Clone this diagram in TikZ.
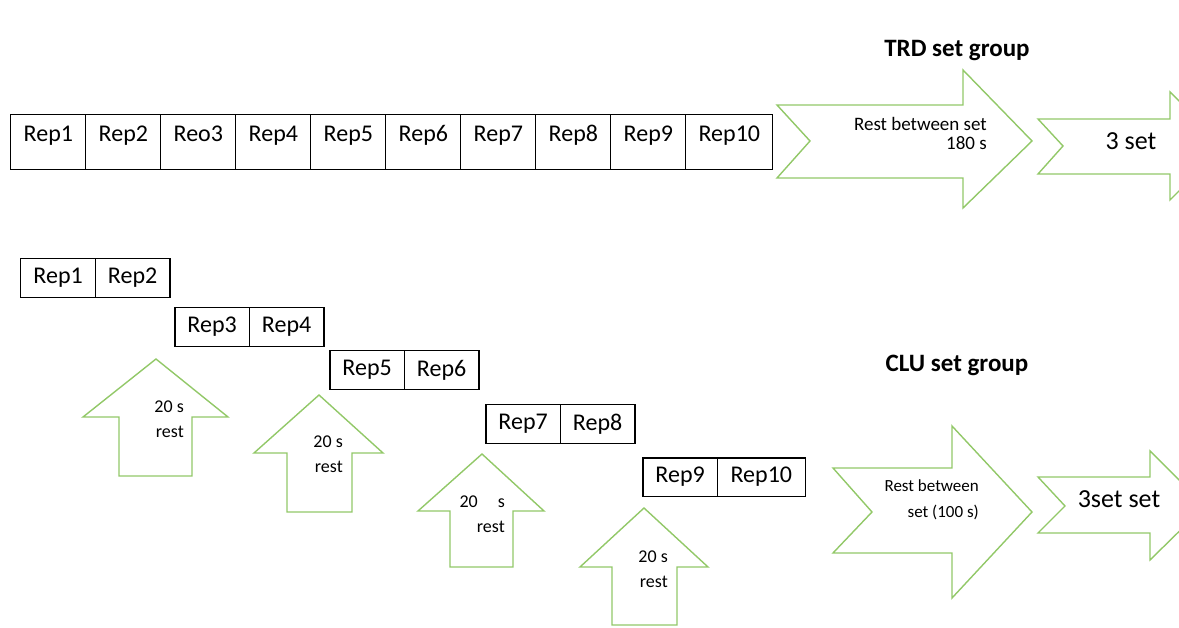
\documentclass[tikz,border=0pt]{standalone}
\usepackage{fontspec}
\setmainfont{Carlito}
\usepackage{tikz}
\usetikzlibrary{matrix}
\definecolor{restgreen}{RGB}{146,200,104}

\begin{document}
\begin{tikzpicture}[x=1pt,y=-1pt]
\tikzset{
  repmatrix/.style={
    matrix of nodes,
    inner sep=0pt,
    anchor=north west,
    column sep=-1.3pt,
    nodes={
      draw,
      line width=1.3pt,
      minimum width=75pt,
      minimum height=55pt,
      text height=16pt,
      text depth=17pt,
      anchor=center,
      font=\fontsize{24}{28}\selectfont
    }
  },
  pairmatrix/.style={
    matrix of nodes,
    inner sep=0pt,
    anchor=north west,
    column sep=-1.3pt,
    nodes={
      draw,
      line width=1.3pt,
      minimum width=74.5pt,
      minimum height=38.5pt,
      anchor=center,
      font=\fontsize{24}{28}\selectfont
    }
  }
};

\tikzstyle{restarrow}=[draw=restgreen,line width=1.4pt]
\tikzstyle{lab}=[inner sep=0pt,anchor=east,align=right]
\tikzstyle{grouplab}=[anchor=base,font=\bfseries\fontsize{25}{29}\selectfont]

\clip (0,0) rectangle (1179,628);

 \matrix (trd) [repmatrix] at (10,114)
 {
    Rep1 & Rep2 & Reo3 & Rep4 & Rep5 & Rep6 & Rep7 & Rep8 & Rep9 &
    |[minimum width=87pt]|Rep10 \\
 };

 \matrix (clu1) [pairmatrix] at (20,258) { Rep1 & Rep2 \\ };
 \matrix (clu2) [pairmatrix] at (174,307) { Rep3 & Rep4 \\ };
 \matrix (clu3) [pairmatrix] at (329,350) { Rep5 & Rep6 \\ };
 \matrix (clu4) [pairmatrix] at (485,404) { Rep7 & Rep8 \\ };
 \matrix (clu5) [pairmatrix] at (642,457) { Rep9 & |[minimum width=88pt]|Rep10 \\ };

  \node[grouplab] (trdlabel) at (957,57) {TRD set group};
  \node[grouplab] (clulabel) at (957,372) {CLU set group};

  \draw[restarrow] (777,105) -- (963,105) -- (963,70) -- (1032,141) -- (963,208)
    -- (963,178) -- (777,178) -- (810,141) -- cycle;
  \draw[restarrow] (1038,119) -- (1170,119) -- (1170,92) -- (1224,146) -- (1170,200)
    -- (1170,174) -- (1038,174) -- (1063,146) -- cycle;
  \draw[restarrow] (833,468) -- (952,468) -- (952,426) -- (1032,512) -- (952,598)
    -- (952,553) -- (833,553) -- (872,512) -- cycle;
  \draw[restarrow] (1038,477) -- (1150,477) -- (1150,451) -- (1205,506) -- (1150,560)
    -- (1150,533) -- (1038,533) -- (1065,506) -- cycle;

  \draw[restarrow] (156,359) -- (228,417) -- (192,417) -- (192,476) -- (119,476)
    -- (119,417) -- (83,417) -- cycle;
  \draw[restarrow] (319,395) -- (383,453) -- (352,453) -- (352,512) -- (287,512)
    -- (287,453) -- (254,453) -- cycle;
  \draw[restarrow] (482,454) -- (544,511) -- (513,511) -- (513,567) -- (450,567)
    -- (450,511) -- (418,511) -- cycle;
  \draw[restarrow] (644,508) -- (708,567) -- (677,567) -- (677,625) -- (612,625)
    -- (612,567) -- (580,567) -- cycle;

  \node[lab,font=\fontsize{19}{19}\selectfont] (trdrest) at (987,133) {Rest between set\\180 s};
  \node[font=\fontsize{26}{30}\selectfont] (trdnext) at (1131,141) {3 set};
  \node[lab,font=\fontsize{17}{26}\selectfont] (clurest) at (979,500) {Rest between\\set (100 s)};
  \node[font=\fontsize{26}{30}\selectfont] (clunext) at (1119,499) {3set set};

  \node[lab,font=\fontsize{18}{25.5}\selectfont] (rest1) at (184,419) {20 s\\rest};
  \node[lab,font=\fontsize{18}{25.5}\selectfont] (rest2) at (343,454) {20 s\\rest};
  \node[lab,font=\fontsize{18}{25.5}\selectfont] (rest3) at (505,514) {20\hspace{20pt}s\\rest};
  \node[lab,font=\fontsize{18}{25.5}\selectfont] (rest4) at (668,569) {20 s\\rest};
\end{tikzpicture}
\end{document}
